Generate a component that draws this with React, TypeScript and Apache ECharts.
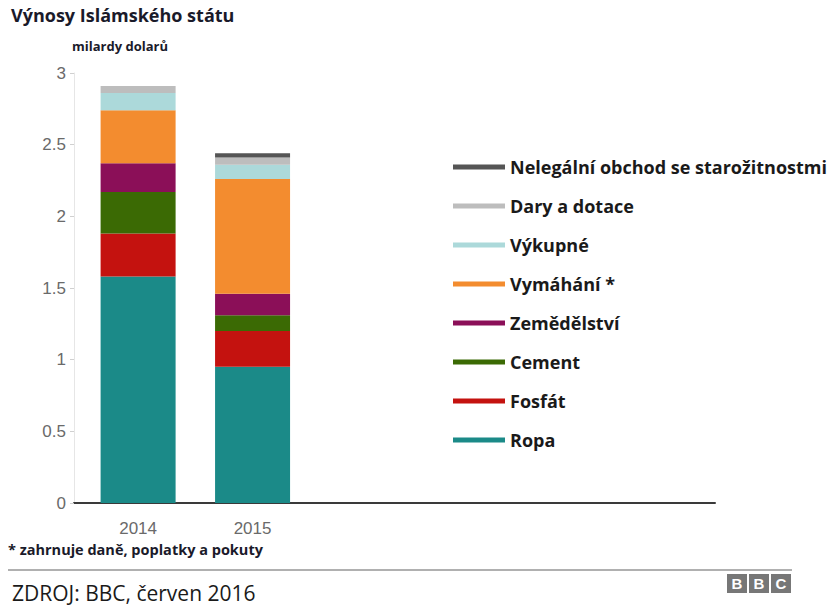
import React, { useEffect, useRef } from "react";
import * as echarts from "echarts";

const years = [2014, 2015];
const seriesNames = [
  "Ropa",
  "Fosfát",
  "Cement",
  "Zemědělství",
  "Vymáhání *",
  "Výkupné",
  "Dary a dotace",
  "Nelegální obchod se starožitnostmi",
];
const ropa = [1.58, 0.95];
const fosfat = [0.3, 0.25];
const cement = [0.29, 0.11];
const zemedelstvi = [0.2, 0.15];
const vymahani = [0.37, 0.8];
const vykupne = [0.12, 0.1];
const dary = [0.05, 0.05];
const nelegalni = [0, 0.03];
const colors = ["#1b8a88", "#c4120f", "#3b6a04", "#8b0f58", "#f38c2f", "#acd9da", "#bdbdbd", "#555555"];
const yTicks = [0, 0.5, 1, 1.5, 2, 2.5, 3];

const allValues = [ropa, fosfat, cement, zemedelstvi, vymahani, vykupne, dary, nelegalni];

export default function App() {
  const ref = useRef<HTMLDivElement>(null);
  useEffect(() => {
    if (!ref.current) return;
    const chart = echarts.init(ref.current, null, { renderer: "svg" });
    const textFont = "'Open Sans', 'Noto Sans', sans-serif";
    const series = seriesNames.map((name, i) => ({
      name,
      type: "bar",
      stack: "total",
      barWidth: 75,
      itemStyle: { color: colors[i] },
      // dimension 0 = value (stacked, y), dimension 1 = year (x)
      encode: { x: 1, y: 0 },
      data: years.map((y, j) => [allValues[i][j], y]),
    }));
    chart.setOption({
      animation: false,
      backgroundColor: "#ffffff",
      grid: { left: 74, right: 119, top: 73, bottom: 107 },
      xAxis: {
        type: "value",
        min: 2013.44,
        max: 2019.04,
        splitLine: { show: false },
        axisLine: { show: true, lineStyle: { color: "#3a3a3a", width: 2 } },
        axisTick: { show: false },
        axisLabel: {
          customValues: years,
          formatter: (v: number) => String(v),
          color: "#6a6a6a",
          fontSize: 17,
          fontFamily: "'Liberation Sans', Arial, sans-serif",
          margin: 17,
        },
      },
      yAxis: {
        type: "value",
        min: yTicks[0],
        max: yTicks[yTicks.length - 1],
        interval: 0.5,
        splitLine: { show: false },
        axisLine: { show: true, lineStyle: { color: "#e6e6e6", width: 1 } },
        axisTick: { show: true, length: 4, lineStyle: { color: "#d0d0d0" } },
        axisLabel: {
          color: "#6a6a6a",
          fontSize: 17,
          fontFamily: "'Liberation Sans', Arial, sans-serif",
          margin: 8,
        },
      },
      legend: {
        orient: "vertical",
        left: 448,
        top: 152,
        icon: "rect",
        itemWidth: 52,
        itemHeight: 5,
        itemGap: 19,
        data: [...seriesNames].reverse(),
        textStyle: {
          color: "#1a1a1a",
          fontSize: 18,
          fontWeight: "bold",
          fontFamily: textFont,
          lineHeight: 20,
        },
        selectedMode: false,
      },
      graphic: [
        {
          type: "text",
          left: 11,
          top: 6,
          style: { text: "Výnosy Islámského státu", fontSize: 18, fontWeight: "bold", fill: "#1a1a2a", fontFamily: textFont },
        },
        {
          type: "text",
          left: 72,
          top: 39,
          style: { text: "milardy dolarů", fontSize: 13, fontWeight: "bold", fill: "#1a1a2a", fontFamily: textFont },
        },
        {
          type: "text",
          left: 8,
          top: 542,
          style: { text: "* zahrnuje daně, poplatky a pokuty", fontSize: 14.5, fontWeight: "bold", fill: "#1a1a2a", fontFamily: textFont },
        },
        {
          type: "line",
          shape: { x1: 8, y1: 570, x2: 792, y2: 570 },
          style: { stroke: "#b0b0b0", lineWidth: 2 },
        },
        {
          type: "text",
          left: 12,
          top: 582,
          style: { text: "ZDROJ: BBC, červen 2016", fontSize: 21, fill: "#1a1a1a", fontFamily: textFont },
        },
        ...["B", "B", "C"].flatMap((ch, i) => [
          {
            type: "rect",
            shape: { x: 727 + i * 22, y: 574, width: 20, height: 19 },
            style: { fill: "#777777" },
          },
          {
            type: "text",
            x: 737 + i * 22,
            y: 583.5,
            style: {
              text: ch,
              fontSize: 15,
              fontWeight: "bold",
              fill: "#ffffff",
              align: "center",
              verticalAlign: "middle",
              fontFamily: "'Liberation Sans', Arial, sans-serif",
            },
          },
        ]),
      ],
      series,
    });
    return () => chart.dispose();
  }, []);
  return <div ref={ref} style={{ position: "fixed", left: 0, top: 0, width: 834, height: 610 }} />;
}
